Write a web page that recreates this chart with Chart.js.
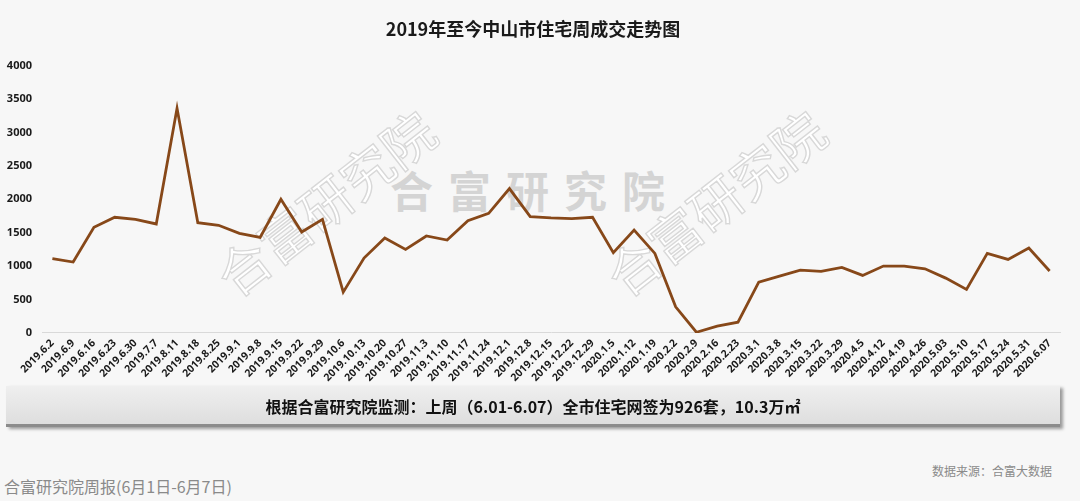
<!DOCTYPE html>
<html>
<head>
<meta charset="utf-8">
<script src="https://cdn.jsdelivr.net/npm/chart.js@4"></script>
<style>
  html, body { margin: 0; padding: 0; }
  body {
    width: 1080px; height: 501px; overflow: hidden; position: relative;
    background: #f7f7f7;
    font-family: "Noto Sans CJK SC", "Open Sans", sans-serif;
  }
  #chart-box { position: absolute; left: 0; top: 0; width: 1080px; height: 388px; z-index: 2; }
  .wm {
    position: absolute; white-space: nowrap; font-weight: 700;
    font-family: "Noto Sans CJK SC", sans-serif;
  }
  .wm-center { left: 390px; top: 158px; font-size: 43px; letter-spacing: 15px; color: #d4d4d4; }
  .wm-tilt {
    font-size: 52px; font-weight: 400; color: rgba(255,255,255,0.95);
    -webkit-text-stroke: 1.4px #d8d8d8; transform: rotate(-38deg); transform-origin: left center;
  }
  #banner {
    position: absolute; left: 6px; top: 386px; width: 1054px; height: 38px; z-index: 3;
    background: linear-gradient(#efefef, #dedede);
    border-bottom: 3px solid #8c8c8c;
    box-shadow: 3px 2px 3px #9a9a9a;
    text-align: center; line-height: 40px;
    font-size: 16px; font-weight: 700; color: #111;
  }
  #footer-left { position: absolute; left: 4px; top: 474px; font-size: 16px; color: #8a8a8a; }
  #footer-right { position: absolute; left: 932px; top: 462px; font-size: 12px; color: #8a8a8a; }
</style>
</head>
<body>
<div class="wm wm-center">合富研究院</div>
<div class="wm wm-tilt" style="left:222px; top:244px;">合富研究院</div>
<div class="wm wm-tilt" style="left:612px; top:244px;">合富研究院</div>
<div id="chart-box"><canvas id="trendChart"></canvas></div>
<div id="banner">根据合富研究院监测：上周（6.01-6.07）全市住宅网签为926套，10.3万㎡</div>
<div id="footer-left">合富研究院周报(6月1日-6月7日)</div>
<div id="footer-right">数据来源：合富大数据</div>

<script>
// Weekly dates (x axis)
const weekLabels = [
  '2019.6.2', '2019.6.9', '2019.6.16', '2019.6.23', '2019.6.30', '2019.7.7',
  '2019.8.11', '2019.8.18', '2019.8.25', '2019.9.1', '2019.9.8', '2019.9.15',
  '2019.9.22', '2019.9.29', '2019.10.6', '2019.10.13', '2019.10.20', '2019.10.27',
  '2019.11.3', '2019.11.10', '2019.11.17', '2019.11.24', '2019.12.1', '2019.12.8',
  '2019.12.15', '2019.12.22', '2019.12.29', '2020.1.5', '2020.1.12', '2020.1.19',
  '2020.2.2', '2020.2.9', '2020.2.16', '2020.2.23', '2020.3.1', '2020.3.8',
  '2020.3.15', '2020.3.22', '2020.3.29', '2020.4.5', '2020.4.12', '2020.4.19',
  '2020.4.26', '2020.5.03', '2020.5.10', '2020.5.17', '2020.5.24', '2020.5.31',
  '2020.6.07'
];

// Weekly residential sales (units)
const weeklySales = [
  1110, 1060, 1580, 1730, 1700, 1630,
  3360, 1650, 1610, 1490, 1430, 2000,
  1510, 1700, 610, 1120, 1420, 1250,
  1450, 1390, 1680, 1790, 2160, 1740,
  1720, 1710, 1730, 1200, 1540, 1190,
  390, 10, 100, 160, 760, 850,
  940, 920, 980, 860, 1000, 1000,
  960, 820, 650, 1190, 1100, 1270,
  926
];

// y axis ticks
const yMin = 0;
const yMax = 4000;
const yStep = 500;

const chartTitle = '2019年至今中山市住宅周成交走势图';

function initChart() {
  const ctx = document.getElementById('trendChart').getContext('2d');
  new Chart(ctx, {
    type: 'line',
    data: {
      labels: weekLabels,
      datasets: [{
        label: '成交套数',
        data: weeklySales,
        borderColor: '#874819',
        borderWidth: 2.8,
        tension: 0,
        pointRadius: 0,
        fill: false
      }]
    },
    options: {
      responsive: true,
      maintainAspectRatio: false,
      animation: false,
      layout: { padding: { left: 6, right: 20, top: 8, bottom: 0 } },
      plugins: {
        legend: { display: false },
        tooltip: { enabled: false },
        title: {
          display: true,
          text: chartTitle,
          color: '#1a1a1a',
          font: { size: 18, weight: 'bold', family: '"Noto Sans CJK SC", sans-serif' },
          padding: { top: 10, bottom: 26 }
        }
      },
      scales: {
        x: {
          offset: true,
          grid: { display: false, drawTicks: false },
          border: { display: true, color: '#d9d9d9', width: 1 },
          // rotated labels may hang left past the plot, like the original
          afterFit: (scale) => { scale.paddingLeft = 0; },
          ticks: {
            color: '#1a1a1a',
            autoSkip: false,
            minRotation: 45,
            maxRotation: 45,
            padding: 4,
            font: { size: 10.5, weight: 'bold', family: '"Open Sans", sans-serif' }
          }
        },
        y: {
          min: yMin,
          max: yMax,
          grid: { display: false, drawTicks: false },
          border: { display: false },
          afterFit: (scale) => { scale.width = 36; },
          ticks: {
            stepSize: yStep,
            color: '#1a1a1a',
            padding: 10,
            font: { size: 11, weight: 'bold', family: '"Open Sans", sans-serif' },
            callback: (v) => String(v)
          }
        }
      }
    }
  });
}

window.onload = () => {
  initChart();
};
</script>
</body>
</html>
